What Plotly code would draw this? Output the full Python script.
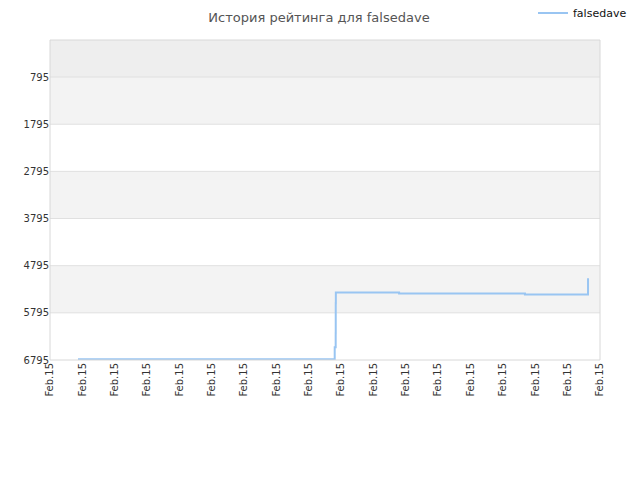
import plotly.graph_objects as go
from datetime import datetime, timedelta

base = datetime(2015, 2, 15)
hours = [0.865, 8.80, 8.83, 8.832, 8.835, 10.79, 14.68, 16.63]
ratings = [6780, 6525, 6228, 5591, 5366, 5387, 5408, 5060]
x_vals = [base + timedelta(hours=h) for h in hours]

y_ticks = [795, 1795, 2795, 3795, 4795, 5795, 6795]
tick_hours = list(range(0, 18))
tick_vals = [base + timedelta(hours=h) for h in tick_hours]
tick_text = ["Feb.15"] * len(tick_vals)
y_top = 10
y_bottom = 6795

fig = go.Figure()
fig.add_trace(go.Scatter(
    x=x_vals, y=ratings, mode="lines", name="falsedave",
    line=dict(color="#99c5f2", width=2, shape="hv"),
))

shapes = []
bands = [(y_top, 795, "#eeeeee"), (795, 1795, "#f3f3f3"), (2795, 3795, "#f3f3f3"), (4795, 5795, "#f3f3f3")]
for y0, y1, c in bands:
    shapes.append(dict(type="rect", xref="paper", yref="y", x0=0, x1=1, y0=y0, y1=y1,
                       fillcolor=c, line=dict(width=0), layer="below"))
for yv in y_ticks[:-1]:
    shapes.append(dict(type="line", xref="paper", yref="y", x0=0, x1=1, y0=yv, y1=yv,
                       line=dict(color="#e0e0e0", width=1), layer="below"))
shapes.append(dict(type="rect", xref="paper", yref="paper", x0=0, x1=1, y0=0, y1=1,
                   line=dict(color="#d8d8d8", width=1), layer="above"))

fig.update_layout(
    width=640, height=480,
    margin=dict(l=42, r=48, t=32, b=128, autoexpand=False),
    paper_bgcolor="white", plot_bgcolor="white",
    title=dict(text="История рейтинга для falsedave", x=311 / 640, xref="container", xanchor="center",
               y=1 - 9 / 480, yref="container", yanchor="middle",
               font=dict(family="DejaVu Sans", size=13, color="#555555")),
    showlegend=True,
    legend=dict(x=525 / 640, xref="container", xanchor="left", y=1 - 5 / 480, yref="container", yanchor="middle",
                font=dict(family="DejaVu Sans", size=11, color="#111111"),
                bgcolor="rgba(0,0,0,0)", itemwidth=30),
    shapes=shapes,
    font=dict(family="DejaVu Sans", size=10, color="#333333"),
)
fig.update_xaxes(type="date", range=[tick_vals[0], tick_vals[-1]], tickvals=tick_vals, ticktext=tick_text,
                 tickangle=-90, showgrid=False, zeroline=False, showline=False, automargin=False,
                 tickfont=dict(size=10, color="#333333"))
fig.update_yaxes(range=[y_bottom, y_top], tickvals=y_ticks, showgrid=False, zeroline=False, automargin=False,
                 showline=False, tickfont=dict(size=10, color="#333333"))
fig.write_html("out.html")
